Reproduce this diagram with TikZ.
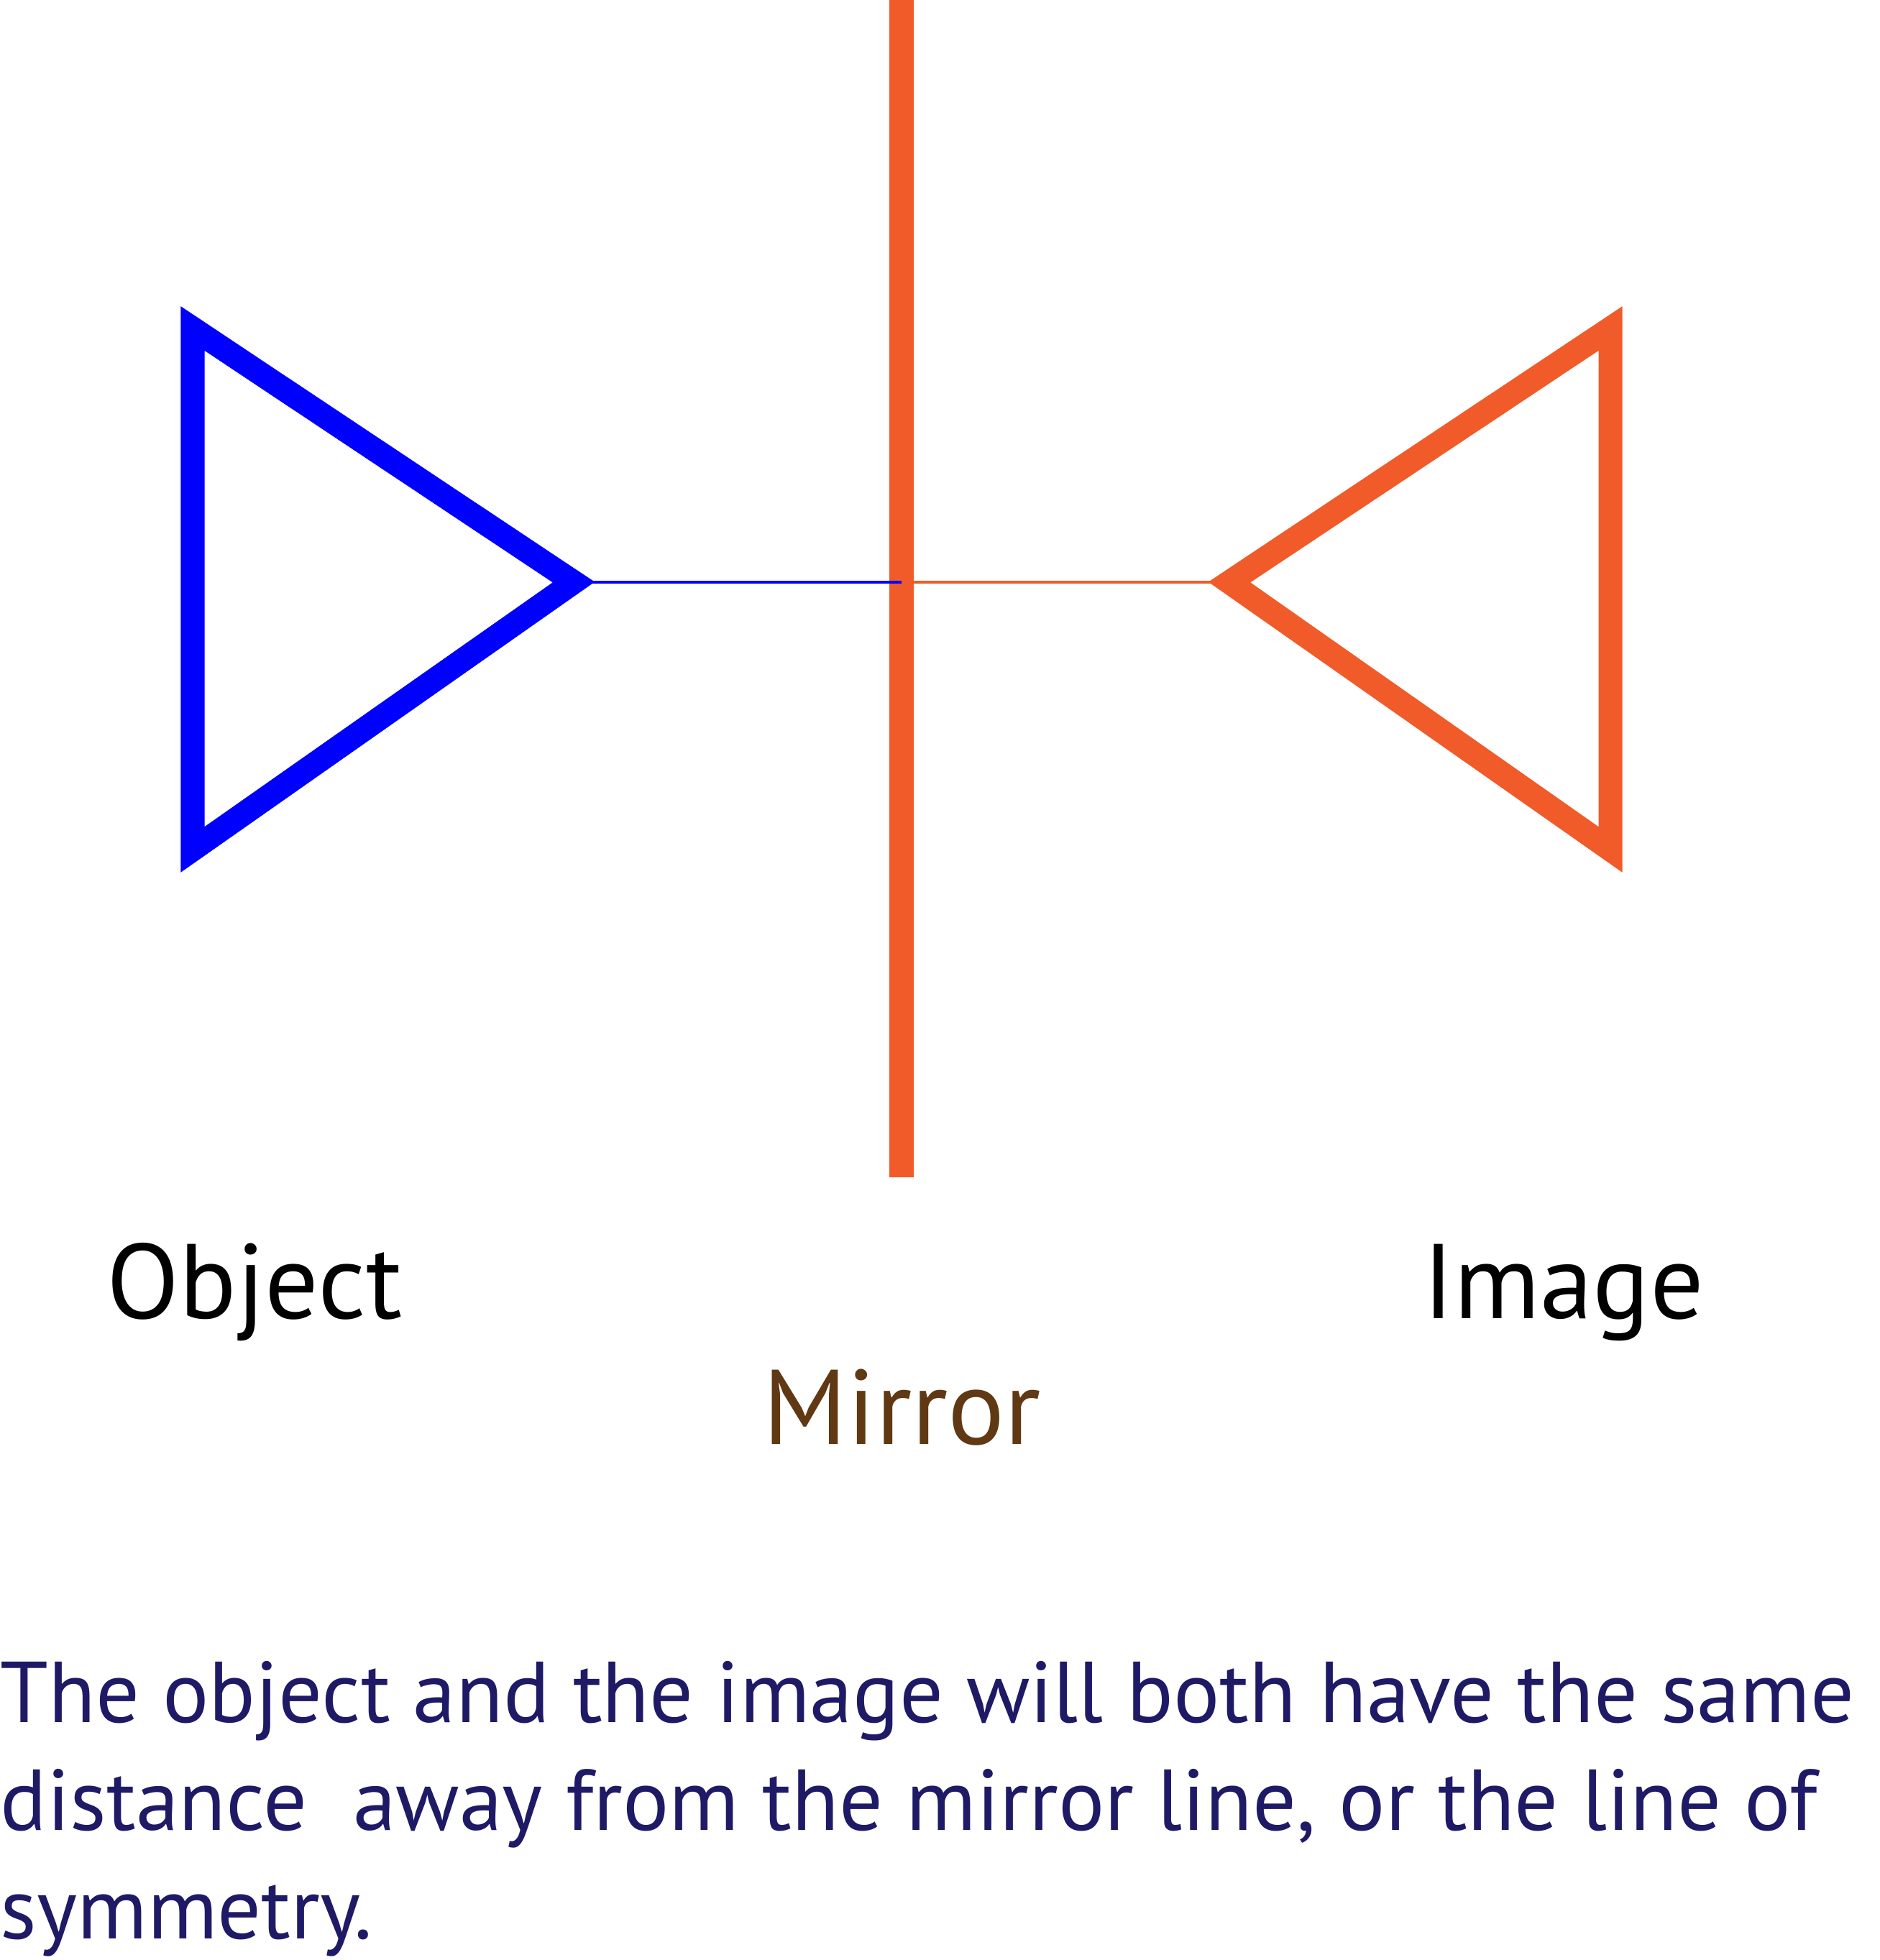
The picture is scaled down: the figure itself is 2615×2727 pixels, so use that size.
\documentclass[tikz,border=0pt]{standalone}
\usepackage{fontspec}
\setmainfont{PT Sans}
\usetikzlibrary{positioning}
\definecolor{mirrororange}{HTML}{F15A29}
\definecolor{objblue}{HTML}{0000FF}
\definecolor{mirrorbrown}{HTML}{603813}
\definecolor{captionnavy}{HTML}{1F1A66}

\begin{document}
\begin{tikzpicture}[x=0.01cm,y=-0.01cm,
  tri/.style={line width=0.33cm,line join=miter,miter limit=10},
  thinline/.style={line width=0.04cm},
  lbl/.style={inner sep=0pt,font=\fontsize{42pt}{50pt}\selectfont}]
\useasboundingbox (0,0) rectangle (2615,2727);
% mirror line
\coordinate (mirtop) at (1254,0);
\coordinate (mirbot) at (1254,1638);
\coordinate (mirmid) at (1254,810);
\draw[mirrororange,line width=0.34cm] (mirtop)--(mirbot);
% object and image
\coordinate (objtip) at (798,810);
\coordinate (imgtip) at (1710,810);
\draw[tri,objblue] (268,457)--(268,1182)--(objtip)--cycle;
\draw[tri,mirrororange] (2240,457)--(2240,1182)--(imgtip)--cycle;
\draw[thinline,objblue] (objtip)--(mirmid);
\draw[thinline,mirrororange] (mirmid)--(imgtip);
% labels
\node[lbl,anchor=base west] (obj) at (148,1834) {Object};
\node[lbl,anchor=base west] (img) at (1979,1834) {Image};
\node[lbl,anchor=base,text=mirrorbrown] (mir) at (1255,2009) {Mirror};
% base of a multi-line node is its last line
\node[inner sep=0pt,anchor=base west,align=left,text=captionnavy,
  font=\fontsize{34.2pt}{42.7pt}\selectfont] (caption) at (0,2697)
  {The object and the image will both have the same\\
   distance\ \ away from the mirror line, or the line of\\
   symmetry.};
\end{tikzpicture}
\end{document}
